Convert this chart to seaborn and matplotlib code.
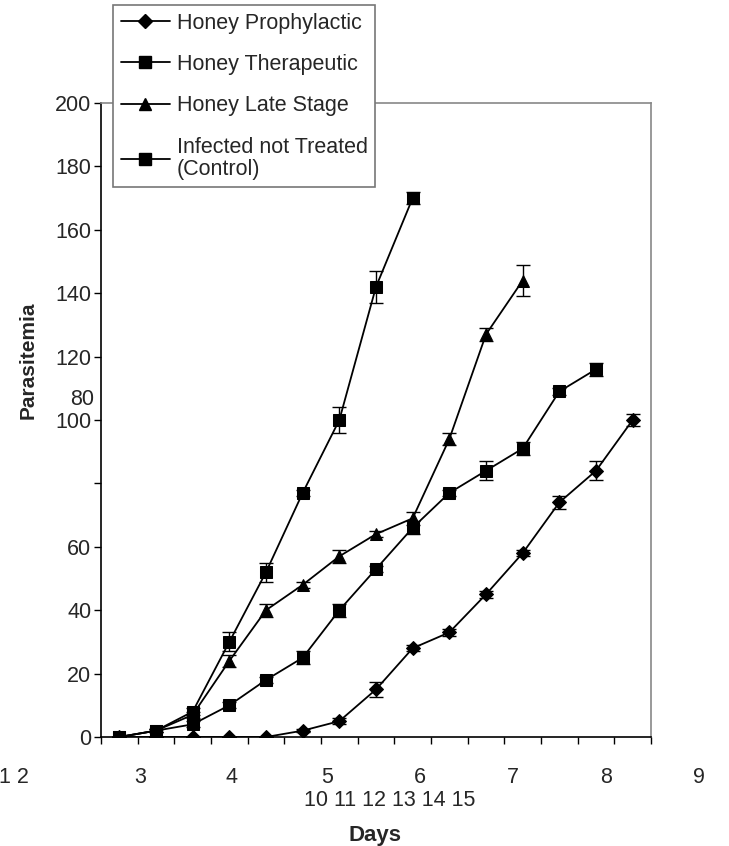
import numpy as np
import pandas as pd
import matplotlib
matplotlib.use("Agg")
import matplotlib.pyplot as plt
from matplotlib.lines import Line2D
import seaborn as sns

# Data
days = list(range(1, 16))
prophylactic = [0, 0, 0, 0, 0, 2, 5, 15, 28, 33, 45, 58, 74, 84, 100]
prophylactic_err = [0, 0, 0, 0, 0, 0.5, 1, 2.5, 1, 1, 1, 1, 2, 3, 2]
therapeutic = [0, 2, 4, 10, 18, 25, 40, 53, 66, 77, 84, 91, 109, 116]
therapeutic_err = [0, 0.5, 1, 1, 1, 2, 2, 1, 2, 1, 3, 2, 1, 2]
late_stage = [0, 2, 7, 24, 40, 48, 57, 64, 69, 94, 127, 144]
late_stage_err = [0, 0.5, 1, 2, 2, 1, 2, 1, 2, 2, 2, 5]
control = [0, 2, 8, 30, 52, 77, 100, 142, 170]
control_err = [0, 0.5, 1, 3, 3, 1, 4, 5, 2]

series_names = ["Honey Prophylactic", "Honey Therapeutic", "Honey Late Stage",
                "Infected not Treated\n(Control)"]
y_ticks = [0, 20, 40, 60, 80, 100, 120, 140, 160, 180, 200]
y_tick_labels = ["0", "20", "40", "60", "", "100", "120", "140", "160", "180", "200"]
x_row1 = ["1 2", "3", "4", "5", "6", "7", "8", "9"]
x_row2 = "10 11 12 13 14 15"

FS = 15.5

sns.set_style("white")
plt.rcParams["font.family"] = ["Liberation Sans", "DejaVu Sans"]

fig = plt.figure(figsize=(7.29, 8.46), dpi=100)
ax = fig.add_axes([101 / 729, 1 - 737 / 846, 550 / 729, 634 / 846])

series = [
    (prophylactic, prophylactic_err, "D", 7),
    (therapeutic, therapeutic_err, "s", 8.5),
    (late_stage, late_stage_err, "^", 9),
    (control, control_err, "s", 8.5),
]

handles = []
for (vals, errs, mk, ms), name in zip(series, series_names):
    df = pd.DataFrame({"day": days[:len(vals)], "value": vals})
    sns.lineplot(data=df, x="day", y="value", ax=ax, color="black", lw=1.3,
                 marker=mk, markersize=ms, markeredgecolor="black",
                 markerfacecolor="black", zorder=3)
    ax.errorbar(df["day"], df["value"], yerr=errs, fmt="none", ecolor="black",
                elinewidth=1, capsize=5, capthick=1, zorder=2)
    handles.append(Line2D([], [], color="black", lw=1.3, marker=mk,
                          markersize=ms, label=name))

ax.set_xlim(0.5, 15.5)
ax.set_ylim(0, 200)
ax.set_xlabel("")
ax.set_ylabel("")

# y axis ticks
ax.set_yticks(y_ticks)
ax.set_yticklabels(y_tick_labels, fontsize=FS)
ax.text(-0.012, 106.6, "80", transform=ax.get_yaxis_transform(),
        ha="right", va="center", fontsize=FS)

# x axis ticks at category boundaries, labels placed as in the reference
ax.set_xticks(np.arange(0.5, 16.5, 1))
ax.set_xticklabels([])
ax.tick_params(axis="both", direction="out", length=5, width=1,
               color="black", left=True, bottom=True, pad=2)
x_pos = [-0.158, 0.071, 0.238, 0.411, 0.58, 0.749, 0.918, 1.087]
for lab, xp in zip(x_row1, x_pos):
    ax.text(xp, -0.064, lab, transform=ax.transAxes, ha="center", va="center",
            fontsize=FS)
ax.text(0.525, -0.1, x_row2, transform=ax.transAxes, ha="center",
        va="center", fontsize=FS)

for side in ["left", "bottom"]:
    ax.spines[side].set_color("black")
    ax.spines[side].set_linewidth(1.2)
for side in ["top", "right"]:
    ax.spines[side].set_color("#888888")
    ax.spines[side].set_linewidth(1.2)

fig.text(375 / 729, 1 - 835 / 846, "Days", ha="center", va="center",
         fontsize=16, fontweight="bold")
fig.text(28 / 729, 1 - 360 / 846, "Parasitemia", rotation=90, ha="center",
         va="center", fontsize=15, fontweight="bold",
         family=["Liberation Sans Narrow", "Liberation Sans"])

leg = fig.legend(handles=handles, loc="upper left",
                 bbox_to_anchor=(113 / 729, 1 - 5 / 846), fontsize=FS,
                 frameon=True, fancybox=False, edgecolor="#777777",
                 framealpha=1, borderaxespad=0, handlelength=2.3,
                 handletextpad=0.3, labelspacing=0.95, borderpad=0.35)
leg.get_frame().set_linewidth(1.2)
for t in leg.get_texts():
    t.set_linespacing(1.05)

fig.savefig("out.png", dpi=100)
